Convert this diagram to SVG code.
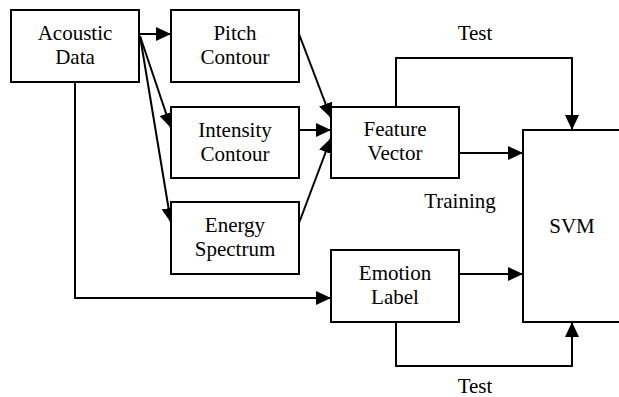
<svg xmlns="http://www.w3.org/2000/svg" width="619" height="397" viewBox="0 0 619 397">
<style>
.box{fill:#fff;stroke:#000;stroke-width:2}
.ln{fill:none;stroke:#000;stroke-width:2}
.t{font-size:21px;fill:#000;text-anchor:middle}
</style>
<defs>
<marker id="ah" viewBox="0 0 15 14" refX="15" refY="7" markerWidth="15" markerHeight="14" markerUnits="userSpaceOnUse" orient="auto">
<path d="M0,0 L15,7 L0,14 Z" fill="#000"/>
</marker>
</defs>
<rect x="0" y="0" width="619" height="397" fill="#fff"/>
<g font-family="Liberation Serif, DejaVu Serif, serif">
<g id="connectors">
<line class="ln" x1="139" y1="34" x2="171" y2="34" marker-end="url(#ah)"/>
<line class="ln" x1="140" y1="36" x2="171" y2="128" marker-end="url(#ah)"/>
<line class="ln" x1="140" y1="36" x2="171" y2="223" marker-end="url(#ah)"/>
<line class="ln" x1="299" y1="34" x2="331" y2="118" marker-end="url(#ah)"/>
<line class="ln" x1="299" y1="130" x2="331" y2="130" marker-end="url(#ah)"/>
<line class="ln" x1="299" y1="223" x2="331" y2="138" marker-end="url(#ah)"/>
<polyline class="ln" points="75,82 75,298 331,298" marker-end="url(#ah)"/>
<polyline class="ln" points="396,107 396,58 572,58 572,130" marker-end="url(#ah)"/>
<line class="ln" x1="459" y1="153" x2="523" y2="153" marker-end="url(#ah)"/>
<line class="ln" x1="459" y1="274" x2="523" y2="274" marker-end="url(#ah)"/>
<polyline class="ln" points="396,322 396,366 572,366 572,322" marker-end="url(#ah)"/>
<text class="t" x="475" y="40">Test</text>
<text class="t" x="460" y="208">Training</text>
<text class="t" x="475" y="393">Test</text>
</g>
<g id="acoustic">
<rect class="box" x="11" y="10" width="128" height="72"/>
<text class="t" x="75" y="40">Acoustic</text>
<text class="t" x="75" y="64">Data</text>
</g>
<g id="pitch">
<rect class="box" x="171" y="10" width="128" height="72"/>
<text class="t" x="235" y="40">Pitch</text>
<text class="t" x="235" y="64">Contour</text>
</g>
<g id="intensity">
<rect class="box" x="171" y="107" width="128" height="71"/>
<text class="t" x="235" y="137">Intensity</text>
<text class="t" x="235" y="161">Contour</text>
</g>
<g id="energy">
<rect class="box" x="171" y="202" width="128" height="72"/>
<text class="t" x="235" y="232">Energy</text>
<text class="t" x="235" y="256">Spectrum</text>
</g>
<g id="feature">
<rect class="box" x="331" y="107" width="128" height="71"/>
<text class="t" x="395" y="136">Feature</text>
<text class="t" x="395" y="160">Vector</text>
</g>
<g id="emotion">
<rect class="box" x="331" y="250" width="128" height="72"/>
<text class="t" x="395" y="280">Emotion</text>
<text class="t" x="395" y="304">Label</text>
</g>
<g id="svm">
<rect class="box" x="523" y="130" width="98" height="192"/>
<text class="t" x="572" y="233">SVM</text>
</g>
</g>
</svg>
